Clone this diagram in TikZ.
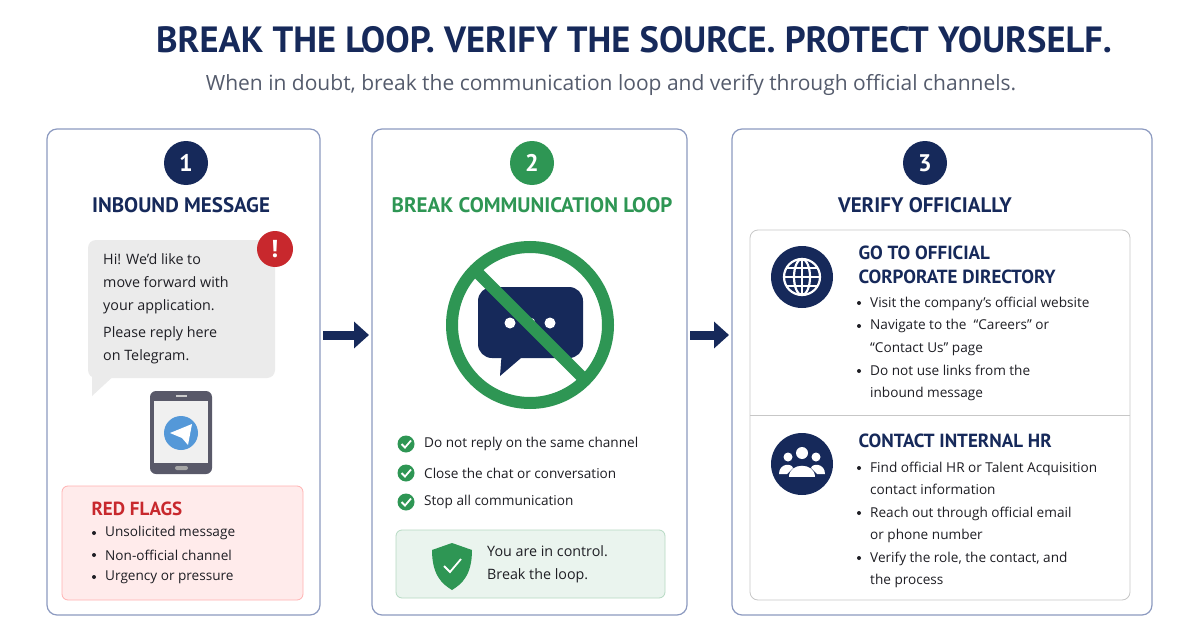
\documentclass[tikz,border=0pt]{standalone}
\usepackage{fontspec}
\setmainfont{Open Sans}
\newfontfamily\headf{PT Sans}
\usetikzlibrary{arrows.meta}
\definecolor{navy}{HTML}{16295A}
\definecolor{grn}{HTML}{2E9654}
\definecolor{redc}{HTML}{C8282D}
\definecolor{bord}{HTML}{8C9AC0}
\definecolor{txt}{HTML}{1E1E24}
\begin{document}
\begin{tikzpicture}[x=1pt,y=-1pt,
  panel/.style={draw=bord,line width=1.2pt,rounded corners=10pt,fill=white},
  num/.style={circle,fill=#1,minimum size=44pt,inner sep=0,text=white,font=\headf\bfseries\fontsize{24}{24}\selectfont},
  head/.style={font=\headf\bfseries\fontsize{21}{22}\selectfont,text=#1},
  body/.style={font=\fontsize{13.6}{22}\selectfont,text=txt,align=left,anchor=north west,inner sep=0},
  bul/.style={circle,fill=txt,inner sep=0,minimum size=4pt},
  chk/.style={circle,fill=grn,inner sep=0,minimum size=17pt},
  icon/.style={circle,fill=navy,inner sep=0,minimum size=62pt}]
\useasboundingbox (0,0) rectangle (1200,634);
\node[font=\headf\bfseries\fontsize{36.5}{40}\selectfont,text=navy] (title) at (634,40) {BREAK THE LOOP. VERIFY THE SOURCE. PROTECT YOURSELF.};
\node[font=\fontsize{21}{22}\selectfont,text=black!50!navy!70] (sub) at (611,85) {When in doubt, break the communication loop and verify through official channels.};
% panels
\draw[panel] (47,129) rectangle (320,615);
\draw[panel] (372,129) rectangle (687,615);
\draw[panel] (732,129) rectangle (1152,615);
\coordinate (p1) at (320,335); \coordinate (p2) at (372,335);
\coordinate (p3) at (687,335); \coordinate (p4) at (732,335);
\draw[navy,line width=9pt,-{Triangle[length=15pt,width=26pt]}] ([xshift=3pt]p1) -- ([xshift=-3pt]p2);
\draw[navy,line width=9pt,-{Triangle[length=15pt,width=26pt]}] ([xshift=3pt]p3) -- ([xshift=-3pt]p4);
\node[num=navy] (n1) at (186,163) {1};
\node[num=grn] (n2) at (532,163) {2};
\node[num=navy] (n3) at (925,163) {3};
\node[head=navy] (h1) at (181,205) {INBOUND MESSAGE};
\node[head=grn] (h2) at (532,205) {BREAK COMMUNICATION LOOP};
\node[head=navy] (h3) at (925,205) {VERIFY OFFICIALLY};
% panel 1
\fill[black!8,rounded corners=8pt] (88,240) rectangle (275,378);
\fill[black!8] (92,370) -- (92,396) -- (118,372) -- cycle;
\node[body,font=\fontsize{14.3}{23}\selectfont] (msg1) at (103,253) {Hi! We'd like to\\move forward with\\your application.};
\node[body,font=\fontsize{14.3}{23}\selectfont] (msg2) at (103,326) {Please reply here\\on Telegram.};
\node[circle,fill=redc,minimum size=36pt,inner sep=0,text=white,font=\bfseries\fontsize{24}{24}\selectfont] (ex) at (275,249) {!};
\fill[black!80!blue!30!gray,rounded corners=6pt] (150,391) rectangle (212,474);
\fill[black!6] (154,401) rectangle (208,463);
\fill[black!20] (176,395) rectangle (187,397);
\fill[black!35,rounded corners=2pt] (175,466) rectangle (188,470);
\node[circle,fill=cyan!60!blue!70,minimum size=34pt,inner sep=0] (tg) at (181,433) {};
\fill[white] (170,433) -- (192,424) -- (188,445) -- (182,438) -- cycle;
\draw[panel,draw=red!30,fill=red!8,rounded corners=6pt,line width=0.8pt] (62,486) rectangle (303,600);
\node[head=redc,anchor=west,font=\headf\bfseries\fontsize{19}{20}\selectfont] (rf) at (88,509) {RED FLAGS};
\foreach \t [count=\i] in {Unsolicited message,Non-official channel,Urgency or pressure}{
  \node[bul] (rb\i) at (94,533+22*\i-22) {};
  \node[body,anchor=west] (rt\i) at (105,533+22*\i-22) {\t};}
% panel 2
\fill[navy,rounded corners=14pt] (478,287) rectangle (583,358);
\fill[navy] (502,350) -- (500,376) -- (528,352) -- cycle;
\foreach \x in {510,530,550} \fill[white] (\x,323) circle (5.5pt);
\draw[grn,line width=12pt] (530,325) circle (78pt);
\draw[grn,line width=12pt] (475,270) -- (585,380);
\foreach \t [count=\i] in {Do not reply on the same channel,Close the chat or conversation,Stop all communication}{
  \node[chk] (c\i) at (406,444+29*\i-29) {};
  \draw[white,line width=1.8pt] (401.5,444+29*\i-29) -- (405,447.5+29*\i-29) -- (411,440.5+29*\i-29);
  \node[body,anchor=west] (ct\i) at (424,444+29*\i-29) {\t};}
\draw[panel,draw=grn!35,fill=grn!10,rounded corners=6pt,line width=0.8pt] (396,530) rectangle (665,598);
\fill[grn] (452,543) -- (472,550) .. controls (472,575) and (462,584) .. (452,590) .. controls (442,584) and (432,575) .. (432,550) -- cycle;
\draw[white,line width=1.8pt] (444,566) -- (450,572) -- (461,559);
\node[body,anchor=west,font=\fontsize{14.3}{23}\selectfont] (ctl) at (487,564) {You are in control.\\Break the loop.};
% panel 3
\draw[panel,draw=black!22,rounded corners=8pt,line width=0.8pt] (750,230) rectangle (1130,600);
\draw[black!22,line width=0.8pt] (750,415) -- (1130,415);
\node[icon] (globe) at (802,277) {};
\begin{scope}[white,line width=2.2pt]
\draw (802,277) circle (18pt);
\draw (802,277) ellipse (8pt and 18pt);
\draw (802,259) -- (802,295); \draw (784,277) -- (820,277);
\draw (787,268) -- (817,268); \draw (787,286) -- (817,286);
\end{scope}
\node[icon] (people) at (802,464) {};
\begin{scope}[white]
\fill (802,453) circle (6pt); \fill (788,457) circle (4.5pt); \fill (816,457) circle (4.5pt);
\fill (789,477) .. controls (789,462) and (815,462) .. (815,477) -- cycle;
\fill (779,474) .. controls (779,463) and (792,463) .. (793,468) -- (787,474) -- cycle;
\fill (825,474) .. controls (825,463) and (812,463) .. (811,468) -- (817,474) -- cycle;
\end{scope}
\node[head=navy,anchor=north west,align=left,font=\headf\bfseries\fontsize{19}{24}\selectfont] (g1) at (855,242) {GO TO OFFICIAL\\CORPORATE DIRECTORY};
\node[head=navy,anchor=west,font=\headf\bfseries\fontsize{19}{20}\selectfont] (g2) at (855,441) {CONTACT INTERNAL HR};
\foreach \y in {303,326,371,468,513,558} \node[bul] at (859,\y) {};
\node[body,font=\fontsize{13.6}{22.3}\selectfont] (t1) at (870,297) {Visit the company's official website\\Navigate to the \ ``Careers'' or\\``Contact Us'' page};
\node[body,font=\fontsize{13.6}{21.5}\selectfont] (t2) at (870,365) {Do not use links from the\\inbound message};
\node[body,font=\fontsize{13.6}{21.5}\selectfont] (t3) at (870,462) {Find official HR or Talent Acquisition\\contact information};
\node[body,font=\fontsize{13.6}{21.5}\selectfont] (t4) at (870,507) {Reach out through official email\\or phone number};
\node[body,font=\fontsize{13.6}{21.5}\selectfont] (t5) at (870,552) {Verify the role, the contact, and\\the process};
\end{tikzpicture}
\end{document}
